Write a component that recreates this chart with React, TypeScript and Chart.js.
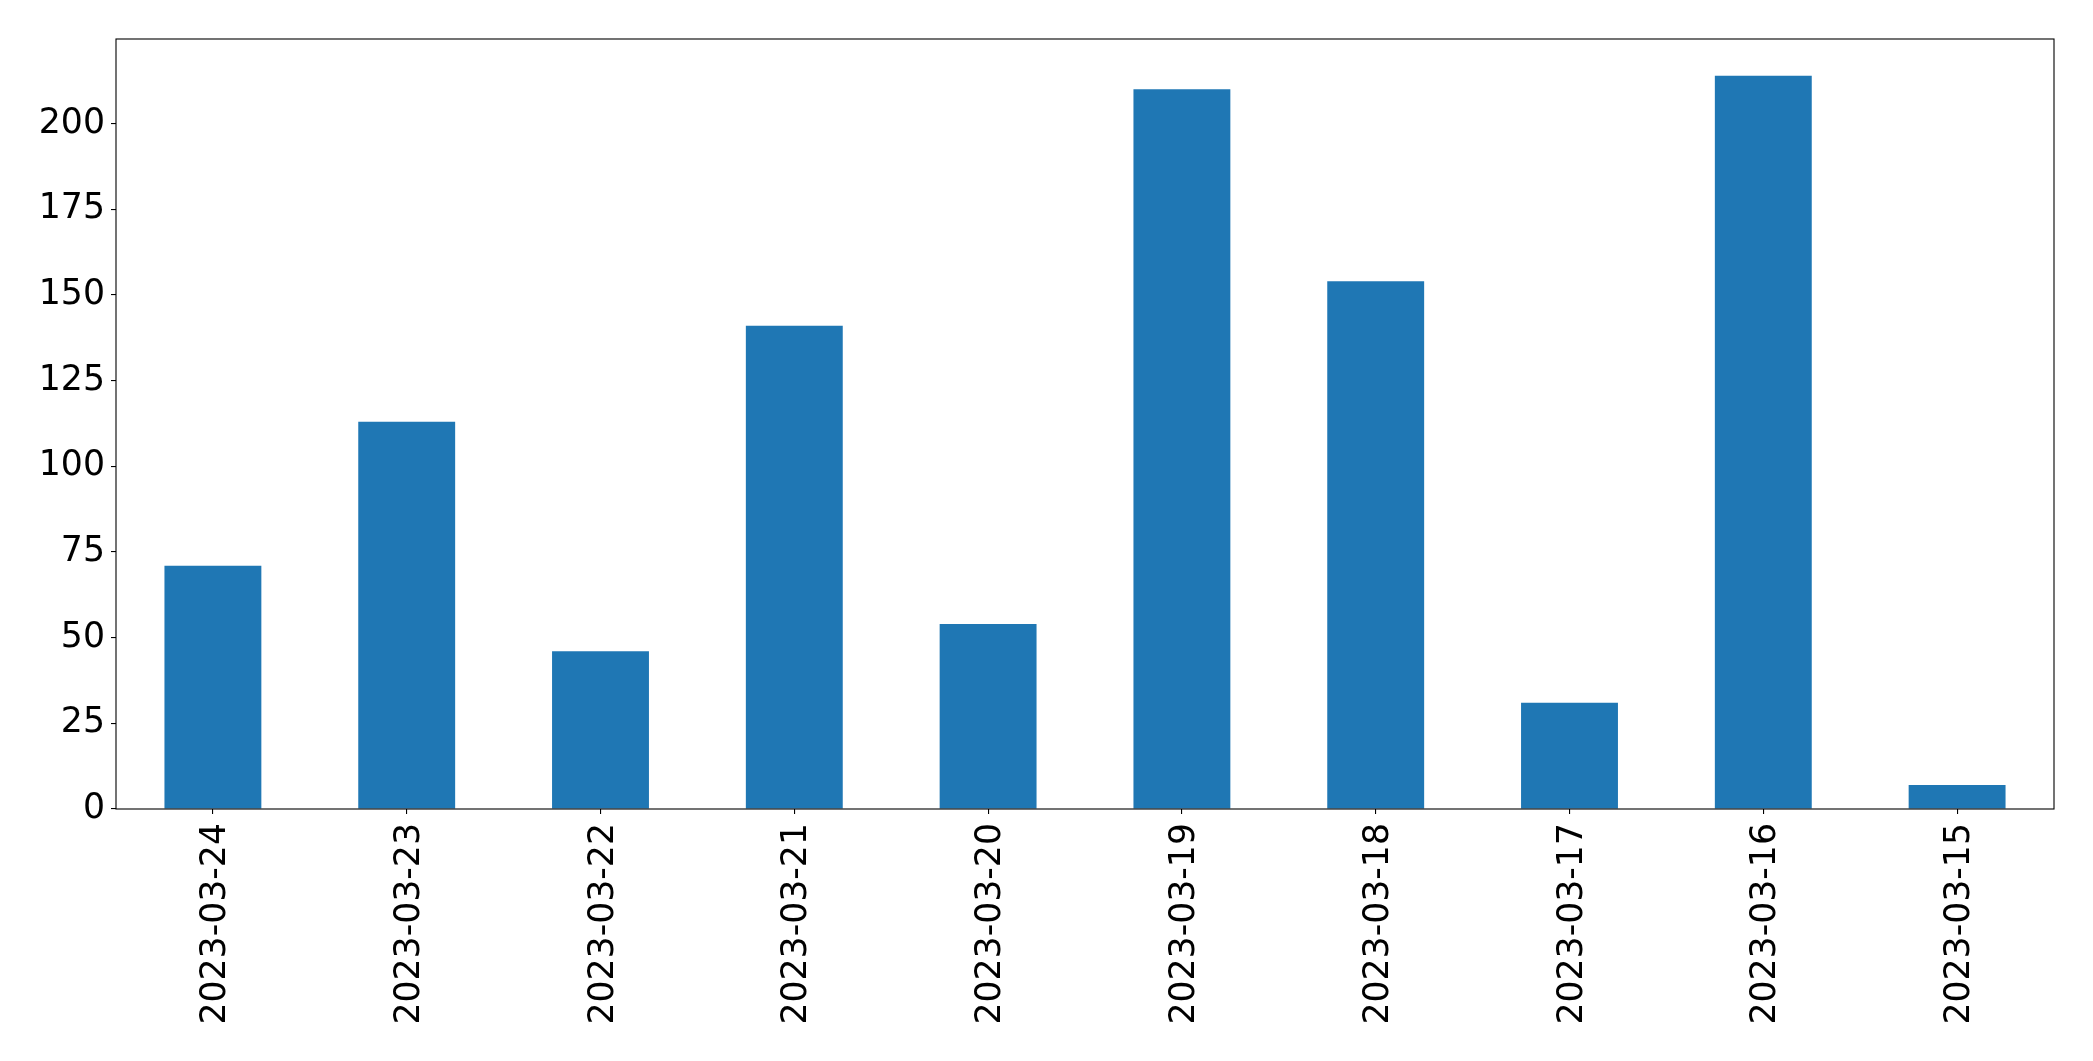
import React, { useEffect, useRef } from "react";
import { Chart, registerables } from "chart.js";

Chart.register(...registerables);

const categories = [
  "2023-03-24",
  "2023-03-23",
  "2023-03-22",
  "2023-03-21",
  "2023-03-20",
  "2023-03-19",
  "2023-03-18",
  "2023-03-17",
  "2023-03-16",
  "2023-03-15",
];
const counts = [71, 113, 46, 141, 54, 210, 154, 31, 214, 7];
const yTicks = [0, 25, 50, 75, 100, 125, 150, 175, 200];

const W = 2093;
const H = 1061;
const FONT = "DejaVu Sans";
const FONT_SIZE = 34.7;

const boxPlugin = {
  id: "boxPlugin",
  afterDraw(chart: any) {
    const { ctx, chartArea } = chart;
    ctx.save();
    ctx.strokeStyle = "#000";
    ctx.lineWidth = 1.1;
    ctx.strokeRect(chartArea.left, chartArea.top, chartArea.right - chartArea.left, chartArea.bottom - chartArea.top);
    ctx.restore();
  },
};

export default function App() {
  const ref = useRef<HTMLCanvasElement | null>(null);
  useEffect(() => {
    if (!ref.current) return;
    const maxVal = Math.max(...counts) * 1.05;
    const chart = new Chart(ref.current, {
      type: "bar",
      data: {
        labels: categories,
        datasets: [
          {
            data: counts,
            backgroundColor: "#1f77b4",
            borderWidth: 0,
            categoryPercentage: 1,
            barPercentage: 0.5,
          },
        ],
      },
      options: {
        responsive: false,
        animation: false,
        devicePixelRatio: 1,
        layout: { padding: { left: 0, top: 39, right: 39, bottom: 0 } },
        plugins: { legend: { display: false }, tooltip: { enabled: false } },
        scales: {
          x: {
            offset: true,
            grid: { display: true, drawOnChartArea: false, drawTicks: true, tickLength: 5, color: "#000", offset: false, lineWidth: 1.1 },
            border: { display: false },
            ticks: {
              color: "#000",
              font: { family: FONT, size: FONT_SIZE },
              maxRotation: 90,
              minRotation: 90,
              autoSkip: false,
              padding: 9,
              labelOffset: 3,
            },
            afterFit(scale: any) {
              scale.height = 252;
            },
          },
          y: {
            min: 0,
            max: maxVal,
            grid: { display: true, drawOnChartArea: false, drawTicks: true, tickLength: 5, color: "#000", lineWidth: 1.1 },
            border: { display: false },
            ticks: {
              color: "#000",
              font: { family: FONT, size: FONT_SIZE },
              padding: 6,
              callback: (v: any) => String(v),
            },
            afterBuildTicks(scale: any) {
              scale.ticks = yTicks.map((v) => ({ value: v }));
            },
            afterFit(scale: any) {
              scale.width = 116;
            },
          },
        },
      },
      plugins: [boxPlugin],
    });
    return () => chart.destroy();
  }, []);
  return (
    <div style={{ position: "absolute", left: 0, top: 0, width: W, height: H, background: "#fff" }}>
      <canvas ref={ref} width={W} height={H} style={{ display: "block", width: W, height: H }} />
    </div>
  );
}
